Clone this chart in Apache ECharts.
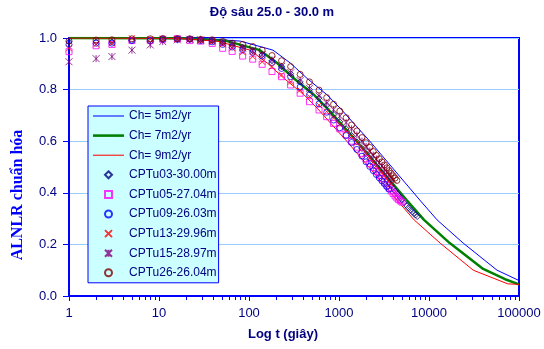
<!DOCTYPE html>
<html><head><meta charset="utf-8">
<script src="https://cdn.jsdelivr.net/npm/echarts@6/dist/echarts.min.js"></script>
<style>html,body{margin:0;padding:0;background:#fff}#c{width:544px;height:349px}</style>
</head><body><div id="c"></div>
<script>
const titleText = 'Độ sâu 25.0 - 30.0 m';
const xName = 'Log t (giây)';
const yName = 'ALNLR chuẩn hóa';

const times = [1,2,3,5,8,11,16,22,29,39,51,65,85,110,140,180,230,290,370,470,600,730,870,1020,1200,1380,1580,1800,2000,2200,2400,2600,2800,3000,3200,3400,3600,3800,4000,4200,4400,4600,4800,5000,5300,5600,5900,6200,6500,6800,7100,7400];

const cptu03 = [0.985,0.985,0.985,0.99,0.993,0.995,0.996,0.996,0.994,0.99,0.98,0.972,0.962,0.95,0.935,0.912,0.89,0.862,0.83,0.8,0.768,0.74,0.705,0.675,0.648,0.622,0.597,0.572,0.552,0.534,0.517,0.502,0.488,0.475,0.462,0.45,0.438,0.427,0.417,0.407,0.398,0.389,0.38,0.372,0.361,0.351,0.342,0.334,0.327,0.32,0.314,0.308];
const cptu05 = [0.947,0.97,0.975,0.99,0.99,0.995,0.997,0.99,0.988,0.979,0.96,0.948,0.93,0.918,0.898,0.87,0.85,0.818,0.786,0.753,0.721,0.695,0.669,0.648,0.625,0.6,0.577,0.553,0.532,0.513,0.498,0.483,0.468,0.454,0.441,0.429,0.418,0.407,0.397,0.388,0.38,0.374,0.369,0.364];
const cptu09 = [0.975,0.98,0.98,0.99,0.99,0.995,0.995,0.995,0.99,0.985,0.975,0.965,0.955,0.945,0.93,0.905,0.882,0.85,0.81,0.78,0.745,0.712,0.682,0.652,0.622,0.595,0.568,0.542,0.52,0.502,0.486,0.471,0.458,0.446,0.435,0.424,0.414];
const cptu13 = [0.96,0.975,0.98,0.999,0.995,0.997,0.997,0.995,0.99,0.985,0.975,0.96,0.945,0.928,0.908,0.889,0.857,0.83,0.798,0.773,0.74,0.715,0.69,0.665,0.64,0.618,0.595,0.572,0.553,0.536,0.52,0.505,0.491,0.478,0.466,0.455,0.444,0.434];
const cptu15 = [0.908,0.92,0.928,0.953,0.973,0.986,0.993,0.995,0.993,0.99,0.982,0.975,0.962,0.95,0.935,0.915,0.89,0.865,0.835,0.805,0.775,0.748,0.722,0.697,0.672,0.648,0.624,0.6,0.58,0.562,0.546,0.531,0.517,0.504,0.492,0.481,0.47,0.46,0.45];
const cptu26 = [0.988,0.992,0.993,0.997,0.997,0.998,0.998,0.997,0.995,0.993,0.987,0.98,0.975,0.967,0.953,0.932,0.912,0.889,0.859,0.83,0.798,0.769,0.743,0.717,0.691,0.663,0.64,0.614,0.594,0.576,0.56,0.545,0.532,0.52,0.508,0.497,0.486,0.476,0.466,0.457,0.448];

const ch5T = [1,10,30,80,185,290,440,740,1030,2200,7900,12300,24000,57000,100000];
const ch5V = [1.0,1.0,0.998,0.988,0.953,0.902,0.844,0.779,0.728,0.60,0.372,0.295,0.205,0.10,0.06];
const ch7T = [1,10,21,57,132,207,314,530,735,1570,5640,8800,17000,40000,70000,100000];
const ch7V = [1.0,0.999,0.998,0.988,0.953,0.902,0.844,0.779,0.728,0.60,0.372,0.295,0.205,0.105,0.065,0.045];
const ch9T = [1,10,17,44,103,161,244,411,572,1220,4400,6830,13300,31000,75000,100000];
const ch9V = [1.0,0.999,0.998,0.988,0.953,0.902,0.844,0.779,0.728,0.60,0.372,0.295,0.205,0.10,0.047,0.045];

const minorTicks = [2,3,4,5,6,7,8,9,20,30,40,50,60,70,80,90,200,300,400,500,600,700,800,900,2000,3000,4000,5000,6000,7000,8000,9000,20000,30000,40000,50000,60000,70000,80000,90000];

function zip(t, v) { return v.map((y, i) => [t[i], y]); }

const navy = '#000080';
const font = 'Liberation Sans, Arial, sans-serif';

function lineSeries(name, t, v, color, width) {
  return { name, type: 'line', data: zip(t, v), symbol: 'none', showSymbol: false,
    lineStyle: { color, width }, itemStyle: { color }, z: 2, silent: true, animation: false };
}
function scatterSeries(name, v, symbol, size, color) {
  return { name, type: 'scatter', data: zip(times, v), symbol, symbolSize: size,
    itemStyle: { color: 'rgba(0,0,0,0)', borderColor: color, borderWidth: 1 }, z: 3, animation: false };
}

const P_DIAMOND = 'path://M5,0L10,5L5,10L0,5Z';
const P_RECT = 'path://M0,0L10,0L10,10L0,10Z';
const P_X = 'path://M0,0L10,10M10,0L0,10';
const P_STAR = 'path://M0,0L10,10M10,0L0,10M5,0L5,10';

const chart = echarts.init(document.getElementById('c'), null, { renderer: 'canvas' });
chart.setOption({
  backgroundColor: '#fff',
  animation: false,
  title: { text: titleText, left: 'center', top: 6, padding: 0,
    textStyle: { color: navy, fontSize: 13, fontWeight: 'bold', fontFamily: font } },
  grid: { left: 69, right: 25, top: 38, bottom: 53, show: true, borderColor: '#0000ff', borderWidth: 2, backgroundColor: 'transparent' },
  xAxis: { type: 'log', logBase: 10, min: 1, max: 100000,
    name: xName, nameLocation: 'middle', nameGap: 32,
    nameTextStyle: { color: navy, fontSize: 13, fontWeight: 'bold', fontFamily: font, padding: [0, 22, 0, 0] },
    axisLine: { show: true, onZero: false, lineStyle: { color: '#0000ff', width: 2 } },
    axisTick: { show: true, inside: false, length: 5, lineStyle: { color: '#0000ff', width: 1 } },
    axisLabel: { color: navy, fontSize: 13, fontFamily: font, margin: 11, formatter: v => String(v) },
    splitLine: { show: false } },
  yAxis: { type: 'value', min: 0, max: 1, interval: 0.2,
    axisLine: { show: true, lineStyle: { color: '#0000ff', width: 2 } },
    axisTick: { show: true, inside: false, length: 6, lineStyle: { color: '#0000ff', width: 1 } },
    axisLabel: { color: navy, fontSize: 13, fontFamily: font, margin: 12, formatter: v => v.toFixed(1) },
    splitLine: { show: true, lineStyle: { color: '#99ccff', width: 1 } } },
  legend: { orient: 'vertical', left: 88, top: 106,
    backgroundColor: '#ccffff', borderColor: '#0000ff', borderWidth: 1,
    padding: [4, 2, 4, 5], itemWidth: 31, itemHeight: 7, itemGap: 7.6,
    textStyle: { color: navy, fontSize: 12, fontFamily: font },
    data: [
      { name: 'Ch= 5m2/yr', icon: 'path://M0,0L30,0L30,1L0,1Z' },
      { name: 'Ch= 7m2/yr', icon: 'path://M0,0L30,0L30,2.5L0,2.5Z' },
      { name: 'Ch= 9m2/yr', icon: 'path://M0,0L30,0L30,1L0,1Z' },
      { name: 'CPTu03-30.00m', icon: P_DIAMOND },
      { name: 'CPTu05-27.04m', icon: P_RECT },
      { name: 'CPTu09-26.03m', icon: 'circle' },
      { name: 'CPTu13-29.96m', icon: P_X },
      { name: 'CPTu15-28.97m', icon: P_STAR },
      { name: 'CPTu26-26.04m', icon: 'circle' }
    ] },
  graphic: [{ type: 'text', x: 18, y: 195, rotation: Math.PI / 2,
    style: { text: yName, fill: '#0000ff', font: 'bold 16px "Liberation Serif", "Times New Roman", serif', textAlign: 'center', textVerticalAlign: 'middle' } }],
  series: [
    lineSeries('Ch= 5m2/yr', ch5T, ch5V, '#0000ff', 1),
    lineSeries('Ch= 7m2/yr', ch7T, ch7V, '#008000', 2.5),
    lineSeries('Ch= 9m2/yr', ch9T, ch9V, '#ff0000', 1),
    scatterSeries('CPTu03-30.00m', cptu03, P_DIAMOND, 6, '#000080'),
    scatterSeries('CPTu05-27.04m', cptu05, 'rect', 6, '#ff00ff'),
    scatterSeries('CPTu09-26.03m', cptu09, 'circle', 6, '#0000ff'),
    scatterSeries('CPTu13-29.96m', cptu13, P_X, 6, '#ff0000'),
    scatterSeries('CPTu15-28.97m', cptu15, P_STAR, 7, '#800080'),
    scatterSeries('CPTu26-26.04m', cptu26, 'circle', 6, '#800000'),
    { name: 'minorTicks', type: 'custom', clip: false, silent: true, z: 5, animation: false,
      data: minorTicks.map(t => [t, 0]),
      renderItem: (params, api) => {
        const x = Math.round(api.coord([api.value(0), 0])[0]) + 0.5;
        const y0 = params.coordSys.y + params.coordSys.height;
        return { type: 'line', shape: { x1: x, y1: y0, x2: x, y2: y0 + 4 },
          style: { stroke: '#0000ff', lineWidth: 1 } };
      } }
  ]
});
</script>
</body></html>
